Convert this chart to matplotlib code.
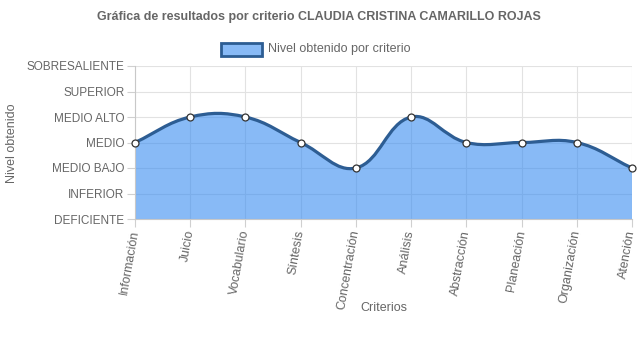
import matplotlib
matplotlib.use("Agg")
import matplotlib.pyplot as plt
from matplotlib.path import Path
from matplotlib.patches import PathPatch, Rectangle
import numpy as np

plt.rcParams['font.family'] = ['Liberation Sans', 'DejaVu Sans']

title = "Gráfica de resultados por criterio CLAUDIA CRISTINA CAMARILLO ROJAS"
series_label = "Nivel obtenido por criterio"
criterios = ["Información", "Juicio", "Vocabulario", "Síntesis", "Concentración",
             "Análisis", "Abstracción", "Planeación", "Organización", "Atención"]
niveles = ["DEFICIENTE", "INFERIOR", "MEDIO BAJO", "MEDIO",
           "MEDIO ALTO", "SUPERIOR", "SOBRESALIENTE"]
valores = [3, 4, 4, 3, 2, 4, 3, 3, 3, 2]

W, H = 637, 348
TXT = "#666666"
LINE = "#2d5d93"
FILL = (57/255, 140/255, 240/255, 0.6)

fig = plt.figure(figsize=(W/100, H/100), dpi=100)
left, right, top, bottom = 135, 632, 66, 219
ax = fig.add_axes([left/W, 1-bottom/H, (right-left)/W, (bottom-top)/H])
n = len(criterios)
ax.set_xlim(0, n-1)
ax.set_ylim(0, len(niveles)-1)

# pixel scale per data unit, spline is computed in screen space
sx = (right-left)/(n-1)
sy = (bottom-top)/(len(niveles)-1)
px = np.arange(n)*sx
py = np.array(valores, dtype=float)*sy
t = 0.4
cp_prev, cp_next = [], []
for i in range(n):
    p0 = np.array([px[max(i-1, 0)], py[max(i-1, 0)]])
    p1 = np.array([px[i], py[i]])
    p2 = np.array([px[min(i+1, n-1)], py[min(i+1, n-1)]])
    d01 = np.hypot(*(p1-p0))
    d12 = np.hypot(*(p2-p1))
    s01 = d01/(d01+d12)
    s12 = d12/(d01+d12)
    fa, fb = t*s01, t*s12
    cp_prev.append(p1 - fa*(p2-p0))
    cp_next.append(p1 + fb*(p2-p0))

def to_data(p):
    return (p[0]/sx, p[1]/sy)

verts = [to_data((px[0], py[0]))]
codes = [Path.MOVETO]
for i in range(n-1):
    verts += [to_data(cp_next[i]), to_data(cp_prev[i+1]), to_data((px[i+1], py[i+1]))]
    codes += [Path.CURVE4]*3
line_path = Path(verts, codes)
fill_verts = verts + [(n-1, 0), (0, 0), (0, 0)]
fill_codes = codes + [Path.LINETO, Path.LINETO, Path.CLOSEPOLY]
ax.add_patch(PathPatch(Path(fill_verts, fill_codes), facecolor=FILL,
                       edgecolor='none', zorder=2))
ax.add_patch(PathPatch(line_path, facecolor='none', edgecolor=LINE,
                       lw=2.3, zorder=3, capstyle='round'))
ax.plot(range(n), valores, 'o', ms=5, mfc='white', mec='#333333', mew=0.9,
        zorder=4, clip_on=False)

ax.set_xticks(range(n))
ax.set_xticklabels(criterios, rotation=80, ha='right', va='center',
                   rotation_mode='anchor', fontsize=9, color=TXT)
ax.set_yticks(range(len(niveles)))
ax.set_yticklabels(niveles, fontsize=8.5, color=TXT)
ax.tick_params(axis='both', length=6, width=0.8, color='#d0d0d0')
ax.tick_params(axis='y', pad=1.5)
ax.tick_params(axis='x', pad=2)
ax.grid(True, color='#e2e2e2', lw=0.8, zorder=0)
ax.set_axisbelow(True)
for s in ['top', 'right']:
    ax.spines[s].set_visible(False)
for s in ['left', 'bottom']:
    ax.spines[s].set_color('#c8c8c8')
    ax.spines[s].set_linewidth(0.8)

fig.text(12/W, 1-143/H, "Nivel obtenido", rotation=90, ha='center', va='center',
         fontsize=9, color=TXT)
fig.text((left+right)/2/W, 1-308/H, "Criterios", ha='center', va='center',
         fontsize=9, color=TXT)
fig.text(0.5, 1-17/H, title, ha='center', va='center', fontsize=9,
         fontweight='bold', color=TXT)

# legend
fig.patches.append(Rectangle((221/W, 1-56/H), 41/W, 13/H, transform=fig.transFigure,
                             facecolor=FILL, edgecolor=LINE, lw=2.0))
fig.text(268/W, 1-49/H, series_label, ha='left', va='center', fontsize=9, color=TXT)

fig.savefig("out.png", dpi=100)
